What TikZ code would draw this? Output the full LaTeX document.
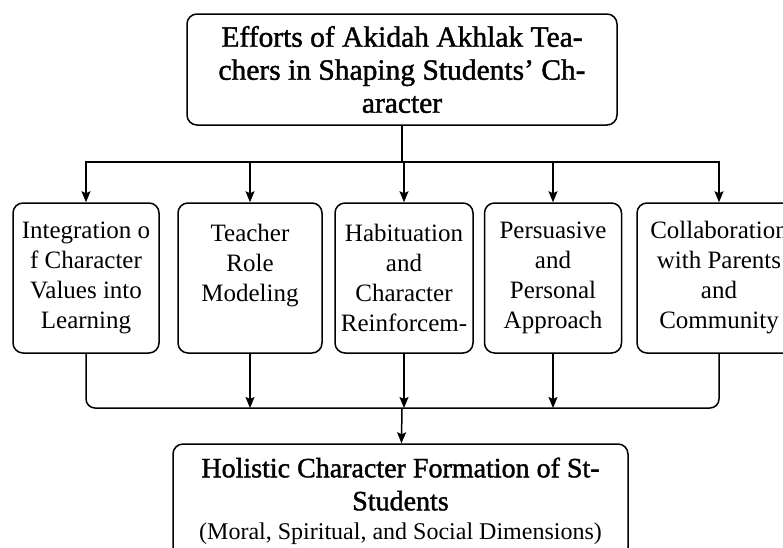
\documentclass[tikz,border=0pt]{standalone}
\usepackage{fontspec}
\setmainfont{Liberation Serif}
\newfontfamily\semibold[FakeBold=1.4]{Liberation Serif}
\usepackage{tikz}
\usetikzlibrary{arrows.meta}

\begin{document}
\begin{tikzpicture}[x=1pt, y=-1pt, line width=1.5pt,
  box/.style={draw, rounded corners=10pt, align=center, inner sep=0pt},
  small/.style={box, minimum height=150pt, font=\fontsize{25}{30}\selectfont},
  arr/.style={-{Stealth[length=11pt, width=9pt, inset=2pt]}}]
\useasboundingbox (0,0) rectangle (783,547);
% Title box
\node[box, minimum width=430pt, minimum height=111pt,
  font=\semibold\fontsize{29.5}{33}\selectfont] (top) at (402,69.5)
  {Efforts of Akidah Akhlak Tea-\\chers in Shaping Students’ Ch-\\aracter};
% Five efforts
\node[small, minimum width=146pt] (b1) at (86,278)
  {Integration o\\f Character\\Values into\\Learning};
\node[small, minimum width=144pt] (b2) at (250,278)
  {Teacher\\Role\\Modeling\\\mbox{}};
\node[small, minimum width=138pt] (b3) at (404,278)
  {Habituation\\and\\Character\\Reinforcem-};
\node[small, minimum width=137pt] (b4) at (553,278)
  {Persuasive\\and\\Personal\\Approach};
\node[small, minimum width=164pt] (b5) at (719,278)
  {Collaboration\\with Parents\\and\\Community};
% Outcome box
\node[box, minimum width=455pt, minimum height=114pt,
  font=\fontsize{28}{33}\selectfont] (bot) at (400.5,501)
  {{\semibold Holistic Character Formation of St-}\\{\semibold Students}\\[-4pt]
   {\fontsize{24}{27}\selectfont (Moral, Spiritual, and Social Dimensions)}};
% Split and merge points
\coordinate (split) at (402,162);
\coordinate (merge) at (402,408);
% Top to efforts
\draw (top) -- (split);
\draw[arr] (split) -| (b1);
\draw[arr] (split) -| (b5);
\foreach \b in {b2,b3,b4}
  \draw[arr] (\b.north |- split) -- (\b);
% Efforts to outcome
\draw[rounded corners=9pt] (b1) |- (merge) -| (b5);
\foreach \b in {b2,b3,b4}
  \draw[arr] (\b) -- (\b.south |- merge);
\draw[arr] (merge) -- (bot);
\end{tikzpicture}
\end{document}
